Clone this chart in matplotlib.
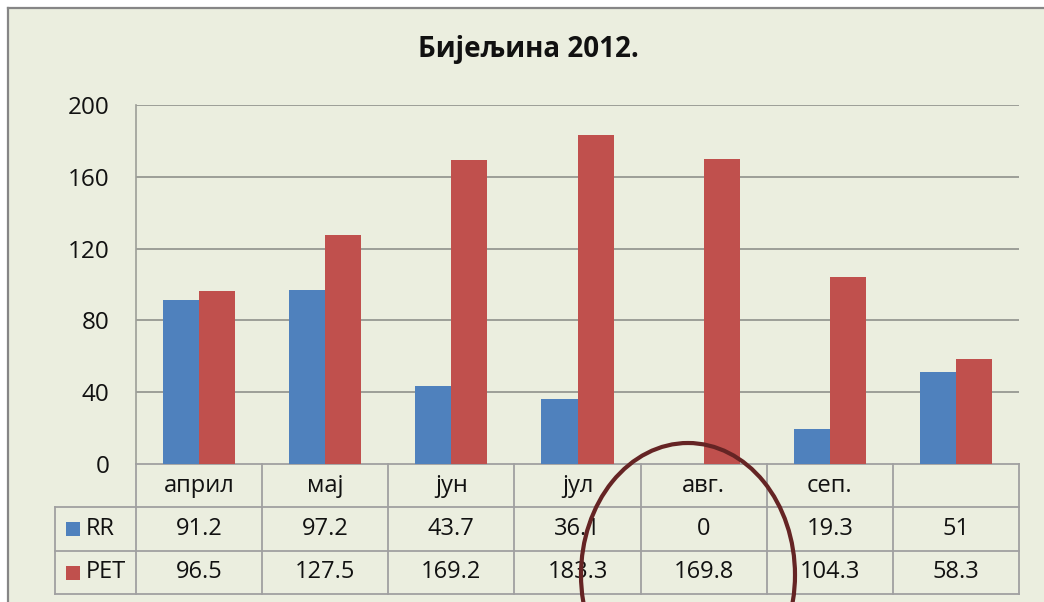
import matplotlib
matplotlib.use("Agg")
import matplotlib.pyplot as plt
from matplotlib.lines import Line2D
from matplotlib.patches import Rectangle, Ellipse
from matplotlib.transforms import blended_transform_factory

# ---- data ----
categories = ["април", "мај", "јун", "јул", "авг.", "сеп.", ""]
rr_values = [91.2, 97.2, 43.7, 36.1, 0, 19.3, 51]
pet_values = [96.5, 127.5, 169.2, 183.3, 169.8, 104.3, 58.3]
rr_labels = ["91.2", "97.2", "43.7", "36.1", "0", "19.3", "51"]
pet_labels = ["96.5", "127.5", "169.2", "183.3", "169.8", "104.3", "58.3"]
series_names = ["RR", "PET"]
y_ticks = [0, 40, 80, 120, 160, 200]
title = "Бијељина 2012."

plt.rcParams['font.family'] = ['Open Sans', 'DejaVu Sans']

W, H = 1044, 602
fig = plt.figure(figsize=(W / 100, H / 100), dpi=100)
fig.patch.set_facecolor("white")

def fx(x):
    return x / W

def fy(y):
    return 1 - y / H

BG = "#EBEEDF"
GRID = "#9C9E98"
TBL = "#A0A0A0"
BLUE = "#4F81BD"
RED = "#C0504D"
TXT = "#111111"

# background panel + frame
fig.add_artist(Rectangle((fx(8), 0), 1 - fx(8), fy(8), transform=fig.transFigure,
                         facecolor=BG, edgecolor="none", zorder=-5))
fig.add_artist(Line2D([fx(8), fx(8)], [0, fy(8)], transform=fig.transFigure,
                      color="#868686", lw=1.6, zorder=-4))
fig.add_artist(Line2D([fx(8), 1], [fy(8), fy(8)], transform=fig.transFigure,
                      color="#868686", lw=1.6, zorder=-4))

# plot area
left, right, top, bottom = 136, 1019, 105, 464
ax = fig.add_axes([fx(left), fy(bottom), fx(right) - fx(left), fy(top) - fy(bottom)])
ax.set_facecolor("none")
n = len(categories)
xs = list(range(n))
bw = 0.286
ax.bar([x - bw / 2 for x in xs], rr_values, width=bw, color=BLUE, zorder=3)
ax.bar([x + bw / 2 for x in xs], pet_values, width=bw, color=RED, zorder=3)
ax.set_xlim(-0.5, n - 0.5)
ax.set_ylim(0, 200)
ax.set_yticks(y_ticks)
ax.set_yticklabels([str(t) for t in y_ticks], fontsize=17.5, color=TXT)
ax.tick_params(axis="y", length=0, pad=19)
ax.set_xticks([])
for t in y_ticks[1:]:
    ax.axhline(t, color=GRID, lw=1.4, zorder=1)
for s in ["top", "right"]:
    ax.spines[s].set_visible(False)
ax.spines["left"].set_color(GRID)
ax.spines["left"].set_linewidth(1.2)
ax.spines["bottom"].set_color(TBL)
ax.spines["bottom"].set_linewidth(1.3)

fig.text(fx(528), fy(50), title, ha="center", va="center", fontsize=20,
         fontweight="bold", color=TXT)

# data table
tr = blended_transform_factory(ax.transData, fig.transFigure)
row_cat = (464, 507)
row_rr = (507, 551)
row_pet = (551, 594)
leg_left = 55

def hline(y, x0_fig, x1_fig):
    fig.add_artist(Line2D([x0_fig, x1_fig], [fy(y), fy(y)], transform=fig.transFigure,
                          color=TBL, lw=1.3, zorder=2))

x_right_fig = fx(right)
hline(row_cat[1], fx(leg_left), x_right_fig)
hline(row_rr[1], fx(leg_left), x_right_fig)
hline(row_pet[1], fx(leg_left), x_right_fig)
for b in [i - 0.5 for i in range(n + 1)]:
    fig.add_artist(Line2D([b, b], [fy(row_cat[0]), fy(row_pet[1])], transform=tr,
                          color=TBL, lw=1.3, zorder=2, clip_on=False))
fig.add_artist(Line2D([fx(leg_left), fx(leg_left)], [fy(row_rr[0]), fy(row_pet[1])],
                      transform=fig.transFigure, color=TBL, lw=1.3, zorder=2))

def ymid(r):
    return fy((r[0] + r[1]) / 2)

for i in range(n):
    fig.text(i, ymid(row_cat), categories[i], transform=tr, ha="center", va="center",
             fontsize=17, color=TXT)
    fig.text(i, ymid(row_rr), rr_labels[i], transform=tr, ha="center", va="center",
             fontsize=17, color=TXT)
    fig.text(i, ymid(row_pet), pet_labels[i], transform=tr, ha="center", va="center",
             fontsize=17, color=TXT)

for r, name, col in [(row_rr, series_names[0], BLUE), (row_pet, series_names[1], RED)]:
    yc = (r[0] + r[1]) / 2
    fig.add_artist(Rectangle((fx(66), fy(yc + 7)), fx(14), 14 / H, transform=fig.transFigure,
                             facecolor=col, edgecolor="none", zorder=3))
    fig.text(fx(86), fy(yc), name, ha="left", va="center", fontsize=17, color=TXT)

# hand-drawn ellipse annotation
fig.add_artist(Ellipse((fx(688), fy(575)), 214 / W, 264 / H, transform=fig.transFigure,
                       facecolor="none", edgecolor="#652424", lw=3, zorder=10))

fig.savefig("out.png", dpi=100)
